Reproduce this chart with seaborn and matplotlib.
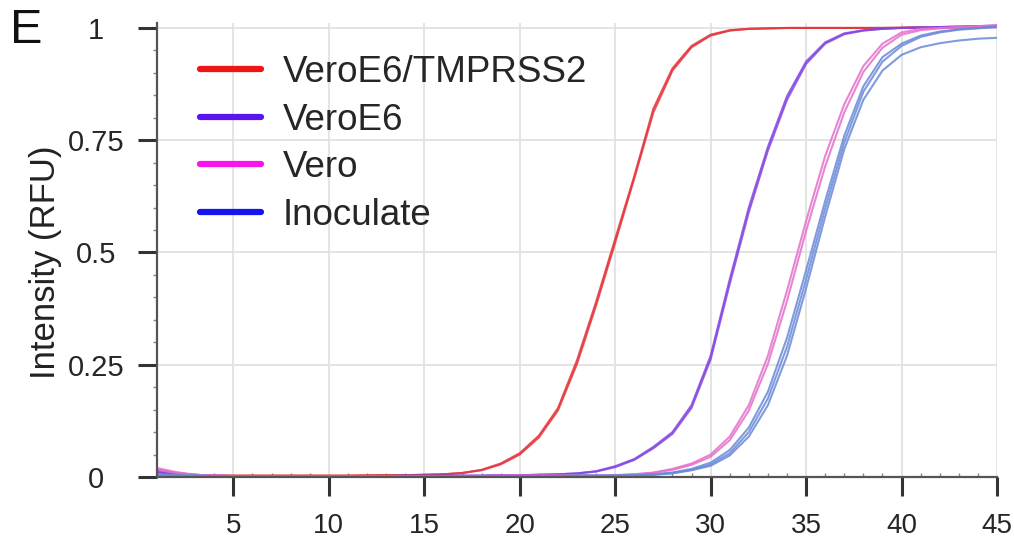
import numpy as np
import pandas as pd
import matplotlib
matplotlib.use("Agg")
import matplotlib.pyplot as plt
import seaborn as sns
from matplotlib.lines import Line2D
from matplotlib.ticker import MultipleLocator

# ---------------- data ----------------
cycles = list(range(1, 46))
groups = ["VeroE6/TMPRSS2", "VeroE6", "Vero", "Inoculate"]

red_1 = [0.016, 0.009, 0.005, 0.003, 0.003, 0.003, 0.003, 0.003, 0.003, 0.003,
         0.003, 0.004, 0.004, 0.004, 0.005, 0.006, 0.009, 0.016, 0.030, 0.053,
         0.092, 0.153, 0.260, 0.390, 0.530, 0.670, 0.820, 0.910, 0.960, 0.985,
         0.995, 0.998, 0.999, 1.000, 1.000, 1.000, 1.000, 1.000, 1.000, 1.001,
         1.001, 1.001, 1.002, 1.002, 1.002]
red_2 = [0.012, 0.007, 0.004, 0.003, 0.003, 0.003, 0.003, 0.003, 0.003, 0.003,
         0.003, 0.003, 0.004, 0.004, 0.005, 0.006, 0.009, 0.015, 0.028, 0.050,
         0.088, 0.148, 0.252, 0.382, 0.522, 0.665, 0.812, 0.905, 0.957, 0.983,
         0.994, 0.998, 0.999, 1.000, 1.000, 1.000, 1.000, 1.000, 1.000, 1.000,
         1.001, 1.001, 1.001, 1.002, 1.002]

purple_1 = [0.012, 0.007, 0.004, 0.003, 0.002, 0.002, 0.002, 0.002, 0.002, 0.002,
            0.002, 0.002, 0.002, 0.003, 0.003, 0.003, 0.003, 0.003, 0.004, 0.004,
            0.005, 0.006, 0.008, 0.013, 0.024, 0.040, 0.067, 0.100, 0.160, 0.270,
            0.440, 0.600, 0.735, 0.848, 0.925, 0.968, 0.988, 0.995, 0.998, 1.000,
            1.001, 1.002, 1.003, 1.004, 1.005]
purple_2 = [0.010, 0.006, 0.004, 0.003, 0.002, 0.002, 0.002, 0.002, 0.002, 0.002,
            0.002, 0.002, 0.002, 0.003, 0.003, 0.003, 0.003, 0.003, 0.004, 0.004,
            0.005, 0.006, 0.008, 0.012, 0.022, 0.038, 0.064, 0.096, 0.154, 0.262,
            0.430, 0.590, 0.727, 0.840, 0.920, 0.965, 0.986, 0.994, 0.998, 1.000,
            1.001, 1.002, 1.003, 1.004, 1.005]

pink_1 = [0.020, 0.011, 0.005, 0.003, 0.002, 0.002, 0.002, 0.002, 0.002, 0.002,
          0.002, 0.002, 0.002, 0.002, 0.002, 0.002, 0.002, 0.002, 0.003, 0.003,
          0.003, 0.003, 0.003, 0.003, 0.004, 0.006, 0.010, 0.018, 0.030, 0.050,
          0.090, 0.160, 0.270, 0.415, 0.570, 0.715, 0.830, 0.915, 0.965, 0.990,
          0.998, 1.000, 1.002, 1.004, 1.006]
pink_2 = [0.016, 0.009, 0.005, 0.003, 0.002, 0.002, 0.002, 0.002, 0.002, 0.002,
          0.002, 0.002, 0.002, 0.002, 0.002, 0.002, 0.002, 0.002, 0.003, 0.003,
          0.003, 0.003, 0.003, 0.003, 0.004, 0.006, 0.009, 0.016, 0.027, 0.045,
          0.082, 0.148, 0.252, 0.392, 0.548, 0.692, 0.812, 0.902, 0.956, 0.985,
          0.995, 0.999, 1.001, 1.003, 1.005]

blue_1 = [0.006, 0.004, 0.003, 0.002, 0.002, 0.002, 0.002, 0.002, 0.002, 0.002,
          0.002, 0.002, 0.002, 0.002, 0.002, 0.002, 0.002, 0.002, 0.002, 0.002,
          0.002, 0.002, 0.003, 0.003, 0.003, 0.004, 0.006, 0.010, 0.018, 0.032,
          0.060, 0.110, 0.190, 0.310, 0.460, 0.615, 0.760, 0.870, 0.935, 0.965,
          0.983, 0.992, 0.997, 1.000, 1.003]
blue_2 = [0.005, 0.003, 0.003, 0.002, 0.002, 0.002, 0.002, 0.002, 0.002, 0.002,
          0.002, 0.002, 0.002, 0.002, 0.002, 0.002, 0.002, 0.002, 0.002, 0.002,
          0.002, 0.002, 0.003, 0.003, 0.003, 0.004, 0.005, 0.008, 0.015, 0.025,
          0.048, 0.090, 0.160, 0.270, 0.420, 0.580, 0.730, 0.840, 0.905, 0.940,
          0.957, 0.966, 0.972, 0.976, 0.978]
blue_3 = [0.005, 0.003, 0.003, 0.002, 0.002, 0.002, 0.002, 0.002, 0.002, 0.002,
          0.002, 0.002, 0.002, 0.002, 0.002, 0.002, 0.002, 0.002, 0.002, 0.002,
          0.002, 0.002, 0.003, 0.003, 0.003, 0.004, 0.005, 0.009, 0.016, 0.028,
          0.053, 0.100, 0.175, 0.290, 0.440, 0.598, 0.745, 0.858, 0.925, 0.960,
          0.980, 0.990, 0.996, 0.999, 1.002]

series = {
    "VeroE6/TMPRSS2": [red_1, red_2],
    "VeroE6": [purple_1, purple_2],
    "Vero": [pink_1, pink_2],
    "Inoculate": [blue_1, blue_2, blue_3],
}

y_ticks = [0, 0.25, 0.5, 0.75, 1]
y_ticklabels = ["0", "0.25", "0.5", "0.75", "1"]
x_ticks = [5, 10, 15, 20, 25, 30, 35, 40, 45]

line_colors = {"VeroE6/TMPRSS2": "#e4363c", "VeroE6": "#8446e2",
               "Vero": "#e470cc", "Inoculate": "#6a8ad8"}
legend_colors = {"VeroE6/TMPRSS2": "#f01414", "VeroE6": "#5a14ee",
                 "Vero": "#f814ea", "Inoculate": "#1414ee"}

rows = []
for g in groups:
    for r, vals in enumerate(series[g]):
        for c, v in zip(cycles, vals):
            rows.append({"cycle": c, "rfu": v, "group": g, "rep": f"{g}_{r}"})
df = pd.DataFrame(rows)

# ---------------- plot ----------------
sns.set_theme(style="white")
plt.rcParams["font.family"] = ["Liberation Sans", "DejaVu Sans"]

W, H = 1014, 542
fig = plt.figure(figsize=(W / 100, H / 100), dpi=100)
ax = fig.add_axes([157 / W, 1 - 477 / H, (997 - 157) / W, (477 - 23) / H])

sns.lineplot(data=df, x="cycle", y="rfu", hue="group", units="rep",
             estimator=None, palette=line_colors, hue_order=groups,
             linewidth=1.5, alpha=0.85, ax=ax, legend=False)

ax.set_xlim(1, 45)
ax.set_ylim(0, 1.011)
ax.set_xticks(x_ticks)
ax.set_xticklabels([str(t) for t in x_ticks])
ax.set_yticks(y_ticks)
ax.set_yticklabels(y_ticklabels)
ax.xaxis.set_minor_locator(MultipleLocator(1))
ax.yaxis.set_minor_locator(MultipleLocator(0.05))

ax.grid(True, which="major", color="#e2e2e2", linewidth=1.3)
ax.set_axisbelow(True)
for s in ["top", "right"]:
    ax.spines[s].set_visible(False)
for s in ["left", "bottom"]:
    ax.spines[s].set_color("#555555")
    ax.spines[s].set_linewidth(1.6)

ax.tick_params(which="major", direction="out", length=14, width=2.2,
               color="#333333", left=True, bottom=True)
ax.tick_params(axis="x", which="major", labelsize=20, pad=12)
ax.tick_params(axis="y", which="major", labelsize=21, pad=30)
for lbl in ax.get_yticklabels():
    lbl.set_horizontalalignment("center")
ax.tick_params(axis="x", which="minor", direction="in", length=3, width=1,
               color="#888888", bottom=True)
ax.tick_params(axis="y", which="minor", direction="out", length=3, width=1,
               color="#888888", left=True)

ax.set_xlabel("")
ax.set_ylabel("Intensity (RFU)", fontsize=25, color="#222222")
ax.yaxis.set_label_coords((62 - 157) / 840, 0.474)

fig.text(10 / W, 1 - 8 / H, "E", fontsize=35, va="top", ha="left",
         color="#111111")

handles = [Line2D([0], [0], color=legend_colors[g], lw=4.5) for g in groups]
ax.legend(handles, groups, loc="upper left",
          bbox_to_anchor=(200 / W, 1 - 55 / H), bbox_transform=fig.transFigure,
          frameon=False, fontsize=26.5, borderpad=0, borderaxespad=0,
          handlelength=1.65, handletextpad=0.6, labelspacing=0.34)

fig.savefig("out.png", dpi=100)
